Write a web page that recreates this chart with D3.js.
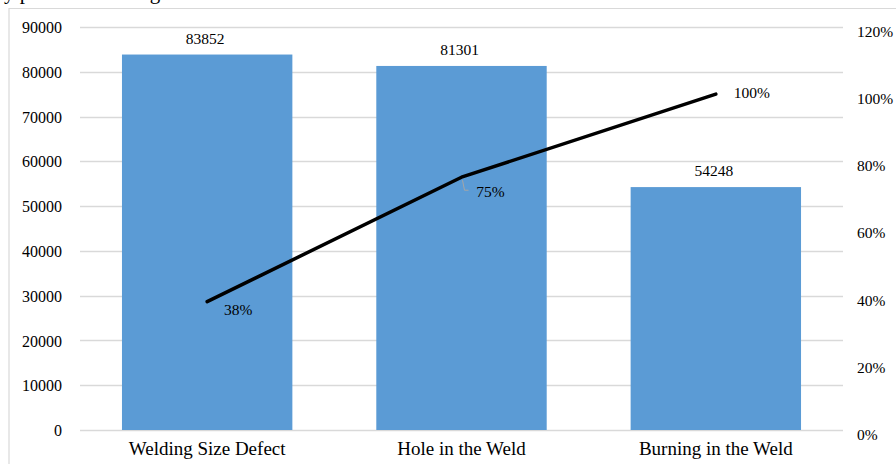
<!DOCTYPE html>
<html>
<head>
<meta charset="utf-8">
<script src="https://cdn.jsdelivr.net/npm/d3@7"></script>
<style>
  html, body { margin: 0; padding: 0; background: #fff; }
  svg { display: block; font-family: "Liberation Serif", "Times New Roman", serif; }
</style>
</head>
<body>
<svg id="chart" width="896" height="464"></svg>
<script>
// Defect categories and counts
const categories = ["Welding Size Defect", "Hole in the Weld", "Burning in the Weld"];
const counts = [83852, 81301, 54248];
// Cumulative share labels shown on the line
const cumulativeLabels = ["38%", "75%", "100%"];
const leftTicks = [0, 10000, 20000, 30000, 40000, 50000, 60000, 70000, 80000, 90000];
const rightTicks = [0, 0.2, 0.4, 0.6, 0.8, 1.0, 1.2];

const total = d3.sum(counts);
const cumulative = Array.from(d3.cumsum(counts), v => v / total);

const svg = d3.select("#chart");
const W = 896, H = 464;
const m = { left: 80, right: 843, top: 27, bottom: 430 };

// Caption line above the chart, mostly outside the visible area
svg.append("text")
  .attr("x", 4).attr("y", -1)
  .attr("font-size", 21).attr("fill", "#000")
  .text("y post-arc welding defect");

// Outer chart frame
svg.append("path")
  .attr("d", `M9,${H} V8.5 H${W}`)
  .attr("fill", "none").attr("stroke", "#d9d9d9").attr("stroke-width", 1.2);

const x = d3.scaleBand().domain(categories).range([m.left, m.right]).paddingInner(0.33).paddingOuter(0.165);
const y = d3.scaleLinear().domain([0, 90000]).range([m.bottom, m.top]);
const y2 = d3.scaleLinear().domain([0, 1.2]).range([m.bottom, m.top]);

// Horizontal gridlines
svg.append("g").selectAll("line").data(leftTicks).join("line")
  .attr("x1", m.left).attr("x2", m.right)
  .attr("y1", d => Math.round(y(d)) + 0.5).attr("y2", d => Math.round(y(d)) + 0.5)
  .attr("stroke", "#d9d9d9").attr("stroke-width", 1.3);

// Left axis labels
const leftAxis = d3.axisLeft(y).tickValues(leftTicks).tickSize(0).tickPadding(0).tickFormat(d3.format("d"));
const gl = svg.append("g").attr("transform", `translate(62,0)`).call(leftAxis);
gl.select(".domain").remove();
gl.selectAll("text").attr("font-size", 16).attr("fill", "#000")
  .attr("font-family", "Liberation Serif, serif").attr("dy", "0.35em");

// Right axis labels
const rightAxis = d3.axisRight(y2).tickValues(rightTicks).tickSize(0).tickPadding(0).tickFormat(d3.format(".0%"));
const gr = svg.append("g").attr("transform", `translate(857,4)`).call(rightAxis);
gr.select(".domain").remove();
gr.selectAll("text").attr("font-size", 15.5).attr("fill", "#000")
  .attr("font-family", "Liberation Serif, serif").attr("dy", "0.35em");

// Bars
svg.append("g").selectAll("rect").data(counts).join("rect")
  .attr("x", (d, i) => x(categories[i]))
  .attr("width", x.bandwidth())
  .attr("y", d => y(d))
  .attr("height", d => y(0) - y(d))
  .attr("fill", "#5b9bd5");

// Bar value labels
svg.append("g").selectAll("text").data(counts).join("text")
  .attr("x", (d, i) => x(categories[i]) + x.bandwidth() / 2 - 2)
  .attr("y", d => y(d) - 11)
  .attr("text-anchor", "middle").attr("font-size", 15.5).attr("fill", "#000")
  .text(d => d);

// Category labels
svg.append("g").selectAll("text").data(categories).join("text")
  .attr("x", d => x(d) + x.bandwidth() / 2)
  .attr("y", 455)
  .attr("text-anchor", "middle").attr("font-size", 19).attr("fill", "#000")
  .text(d => d);

// Cumulative line
const pts = cumulative.map((c, i) => [x(categories[i]) + x.bandwidth() / 2, y2(c)]);
svg.append("path")
  .attr("d", d3.line()(pts))
  .attr("fill", "none").attr("stroke", "#000").attr("stroke-width", 3.5)
  .attr("stroke-linecap", "round").attr("stroke-linejoin", "round");

// Leader line for the middle label
svg.append("path")
  .attr("d", `M${pts[1][0] + 1},${pts[1][1] + 3} L${pts[1][0] + 3},${pts[1][1] + 13} H${pts[1][0] + 7}`)
  .attr("fill", "none").attr("stroke", "#a6a6a6").attr("stroke-width", 1);

// Cumulative labels
const labelOffsets = [[31, 13], [29, 20], [36, 4]];
svg.append("g").selectAll("text").data(cumulativeLabels).join("text")
  .attr("x", (d, i) => pts[i][0] + labelOffsets[i][0])
  .attr("y", (d, i) => pts[i][1] + labelOffsets[i][1])
  .attr("text-anchor", "middle").attr("font-size", 15.5).attr("fill", "#000")
  .text(d => d);
</script>
</body>
</html>
